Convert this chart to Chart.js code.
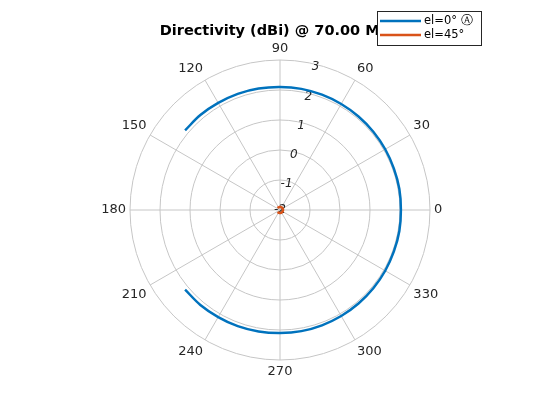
<!DOCTYPE html>
<html>
<head>
<meta charset="utf-8">
<script src="https://cdn.jsdelivr.net/npm/chart.js@4/dist/chart.umd.min.js"></script>
<style>
  body { margin: 0; background: #fff; }
  canvas { display: block; }
</style>
</head>
<body>
<canvas id="polarGrafico" width="560" height="420"></canvas>
<script>
// angle ticks (degrees) and radial ticks (dBi)
const angleTicks = [0, 30, 60, 90, 120, 150, 180, 210, 240, 270, 300, 330];
const radialTicks = [-2, -1, 0, 1, 2, 3];

// azimuth of the samples
const azimuth = [-140, -130, -120, -110, -100, -90, -80, -70, -60, -50, -40, -30, -20, -10, 0,
  10, 20, 30, 40, 50, 60, 70, 80, 90, 100, 110, 120, 130, 140];

// el=0 directivity
const el0 = [2.13, 2.13, 2.12, 2.12, 2.11, 2.1, 2.1, 2.09, 2.08, 2.07, 2.06, 2.05, 2.04, 2.04, 2.03,
  2.04, 2.04, 2.05, 2.06, 2.07, 2.08, 2.09, 2.1, 2.1, 2.11, 2.12, 2.12, 2.13, 2.13];

// el=45 directivity (sits at the centre)
const el45 = [-1.9, -1.9, -1.9, -1.9, -1.9, -1.9, -1.9, -1.9, -1.9, -1.9, -1.9, -1.9, -1.9, -1.9, -1.9,
  -1.9, -1.9, -1.9, -1.9, -1.9, -1.9, -1.9, -1.9, -1.9, -1.9, -1.9, -1.9, -1.9, -1.9];

// radar goes clockwise, so index i is azimuth -10*i
const labels = [];
for (let i = 0; i < 36; i++) {
  labels.push((360 - 10 * i) % 360);
}

function toRadar(values) {
  const out = labels.map(() => null);
  for (let k = 0; k < azimuth.length; k++) {
    const deg = ((azimuth[k] % 360) + 360) % 360;
    out[labels.indexOf(deg)] = values[k];
  }
  return out;
}

function isAngleTick(index) {
  return angleTicks.includes(labels[index]);
}

// radial tick labels drawn along the 76 degree line
const rTicksPlugin = {
  id: "rTicks",
  beforeDatasetsDraw(chart) {
    const s = chart.scales.r;
    const ctx = chart.ctx;
    const a = 76 * Math.PI / 180;
    ctx.save();
    ctx.font = "italic 12px 'DejaVu Sans'";
    ctx.fillStyle = "#262626";
    ctx.textAlign = "center";
    ctx.textBaseline = "middle";
    radialTicks.forEach((v) => {
      let d = s.getDistanceFromCenterForValue(v) - 3;
      if (d < 0) d = 0;
      ctx.fillText(String(v), s.xCenter + d * Math.cos(a), s.yCenter - d * Math.sin(a));
    });
    ctx.restore();
  },
};

// boxed legend in the top right corner, over the title
const boxLegendPlugin = {
  id: "boxLegend",
  afterDraw(chart) {
    const ctx = chart.ctx;
    const x = 377, y = 11, w = 104, h = 34;
    ctx.save();
    ctx.fillStyle = "#fff";
    ctx.fillRect(x, y, w, h);
    ctx.strokeStyle = "#262626";
    ctx.lineWidth = 1;
    ctx.strokeRect(x + 0.5, y + 0.5, w, h);
    ctx.font = "11.5px 'DejaVu Sans'";
    ctx.textBaseline = "middle";
    chart.data.datasets.forEach((ds, i) => {
      const ly = y + 10 + i * 14;
      ctx.strokeStyle = ds.borderColor;
      ctx.lineWidth = 2.4;
      ctx.beginPath();
      ctx.moveTo(x + 3, ly);
      ctx.lineTo(x + 44, ly);
      ctx.stroke();
      ctx.fillStyle = "#000";
      ctx.fillText(ds.label, x + 47, ly + 0.5);
    });
    ctx.restore();
  },
};

let polarGrafico = document.getElementById("polarGrafico");
const config = {
  type: "radar",
  data: {
    labels: labels,
    datasets: [
      {
        label: "el=0° \u24B6",
        data: toRadar(el0),
        borderColor: "#0072BD",
        borderWidth: 2.5,
        pointRadius: 0,
        fill: false,
        spanGaps: false,
        tension: 0.35,
      },
      {
        label: "el=45°",
        data: toRadar(el45),
        borderColor: "#D95319",
        borderWidth: 2.5,
        pointRadius: 0,
        fill: false,
        spanGaps: false,
        tension: 0.35,
      },
    ],
  },
  options: {
    responsive: false,
    animation: false,
    devicePixelRatio: 1,
    layout: {
      padding: { top: 15, bottom: 40, left: 0, right: 0 },
    },
    plugins: {
      legend: { display: false },
      tooltip: { enabled: false },
      title: {
        display: true,
        text: "Directivity (dBi) @ 70.00 MHz",
        color: "#000",
        font: { family: "'DejaVu Sans'", size: 14.5, weight: "bold" },
        padding: { top: 8, bottom: 0 },
      },
    },
    scales: {
      r: {
        min: -2,
        max: 3,
        startAngle: 90,
        ticks: { display: false, stepSize: 1 },
        grid: { circular: true, color: "#c6c6c6", lineWidth: 1 },
        angleLines: {
          color: (c) => (isAngleTick(c.index) ? "#c6c6c6" : "rgba(0,0,0,0)"),
          lineWidth: (c) => (isAngleTick(c.index) ? 1 : 0),
        },
        pointLabels: {
          color: "#262626",
          padding: 4,
          font: { family: "'DejaVu Sans'", size: 13 },
          callback: (label) => (angleTicks.includes(Number(label)) ? String(label) : ""),
        },
      },
    },
  },
  plugins: [rTicksPlugin, boxLegendPlugin],
};

let myPolar = new Chart(polarGrafico, config);
</script>
</body>
</html>
